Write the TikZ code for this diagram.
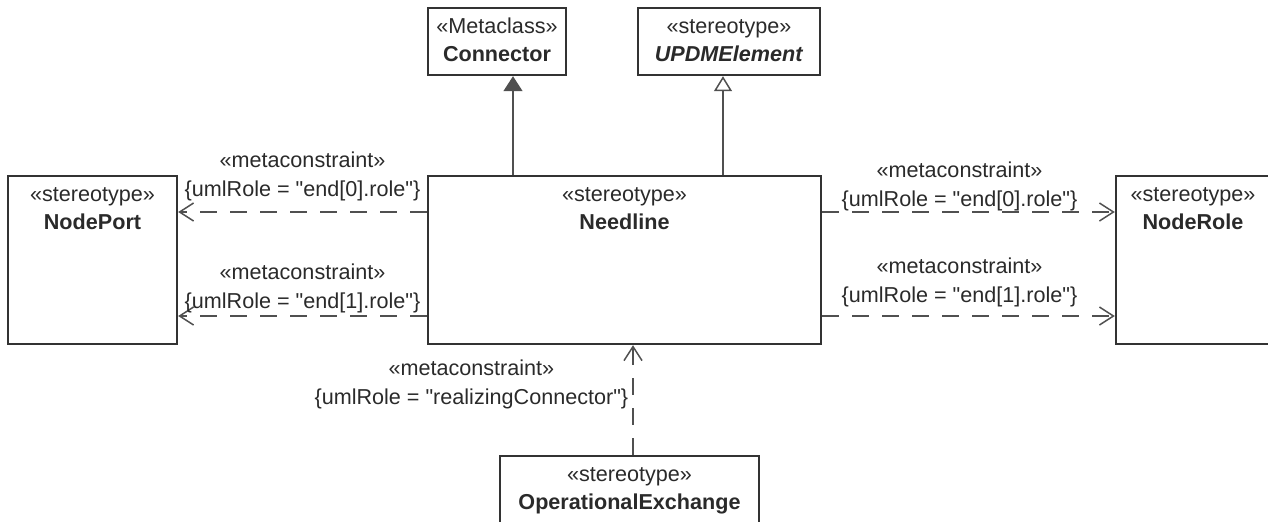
\documentclass[tikz,border=0pt]{standalone}
\usepackage{fontspec}
\setmainfont{Liberation Sans}
\usetikzlibrary{arrows.meta,positioning}
\definecolor{boxgray}{HTML}{333333}
\definecolor{linegray}{HTML}{505050}
\definecolor{txtgray}{HTML}{2A2A2A}
\tikzset{
  umlbox/.style={draw=boxgray, line width=1.2pt, inner sep=0pt},
  boxtext/.style={anchor=north, align=center, inner sep=0pt, text=txtgray,
    font=\fontsize{10.8}{14}\selectfont},
  lbl/.style={align=center, inner sep=0pt, text=txtgray,
    font=\fontsize{10.8}{14.5}\selectfont},
  extend/.style={draw=linegray, line width=0.75pt,
    -{Triangle[length=7.5pt,width=9.5pt,fill=linegray]}},
  generalize/.style={draw=linegray, line width=0.75pt,
    -{Triangle[open,length=7.5pt,width=9pt,fill=white]}},
  meta/.style={draw=linegray, line width=0.75pt, dash pattern=on 8.5pt off 6.5pt,
    -{Straight Barb[length=7pt,width=9pt]}},
}
\begin{document}
\begin{tikzpicture}[x=0.5pt,y=-0.5pt]
\useasboundingbox (0,0) rectangle (1268,521);
% classes
\node[umlbox, minimum width=69pt, minimum height=33.5pt] (connector) at (497,41.5) {};
\node[umlbox, minimum width=91pt, minimum height=33.5pt] (updm) at (729,41.5) {};
\node[umlbox, minimum width=196.5pt, minimum height=84pt] (needline) at (624.5,260) {};
\node[umlbox, minimum width=84.5pt, minimum height=84pt] (nodeport) at (92.5,260) {};
\node[umlbox, minimum width=77pt, minimum height=84pt] (noderole) at (1193,260) {};
\node[umlbox, minimum width=129.5pt, minimum height=55pt] (opx) at (629.5,511) {};
\node[boxtext] (connector-t) at ([yshift=-5pt]connector.north) {\rule{0pt}{8pt}«Metaclass»\\\textbf{Connector}};
\node[boxtext] (updm-t) at ([yshift=-5pt]updm.north) {\rule{0pt}{8pt}«stereotype»\\\textbf{\textit{UPDMElement}}};
\node[boxtext] (needline-t) at ([yshift=-5pt]needline.north) {\rule{0pt}{8pt}«stereotype»\\\textbf{Needline}};
\node[boxtext] (nodeport-t) at ([yshift=-5pt]nodeport.north) {\rule{0pt}{8pt}«stereotype»\\\textbf{NodePort}};
\node[boxtext] (noderole-t) at ([yshift=-5pt]noderole.north) {\rule{0pt}{8pt}«stereotype»\\\textbf{NodeRole}};
\node[boxtext] (opx-t) at ([yshift=-5pt]opx.north) {\rule{0pt}{8pt}«stereotype»\\\textbf{OperationalExchange}};
% generalizations
\coordinate (gx0) at (513,0);
\coordinate (gx1) at (723,0);
\draw[extend] (needline.north -| gx0) -- (connector.south -| gx0);
\draw[generalize] (needline.north -| gx1) -- (updm.south -| gx1);
% metaconstraints
\coordinate (r0) at (0,212);
\coordinate (r1) at (0,316);
\coordinate (rc) at (633,0);
\draw[meta] (needline.west |- r0) -- node[lbl, above=5pt] {«metaconstraint»\\\{umlRole = \textquotedbl end[0].role\textquotedbl\}} (nodeport.east |- r0);
\draw[meta] (needline.west |- r1) -- node[lbl, above=1pt] {«metaconstraint»\\\{umlRole = \textquotedbl end[1].role\textquotedbl\}} (nodeport.east |- r1);
\draw[meta] (needline.east |- r0) -- node[lbl, above=0pt, xshift=-4.5pt] {«metaconstraint»\\\{umlRole = \textquotedbl end[0].role\textquotedbl\}} (noderole.west |- r0);
\draw[meta] (needline.east |- r1) -- node[lbl, above=4pt, xshift=-4.5pt] {«metaconstraint»\\\{umlRole = \textquotedbl end[1].role\textquotedbl\}} (noderole.west |- r1);
\draw[meta] (opx.north -| rc) -- node[lbl, left=2pt, pos=0.64] {«metaconstraint»\\\{umlRole = \textquotedbl realizingConnector\textquotedbl\}} (needline.south -| rc);
\end{tikzpicture}
\end{document}
